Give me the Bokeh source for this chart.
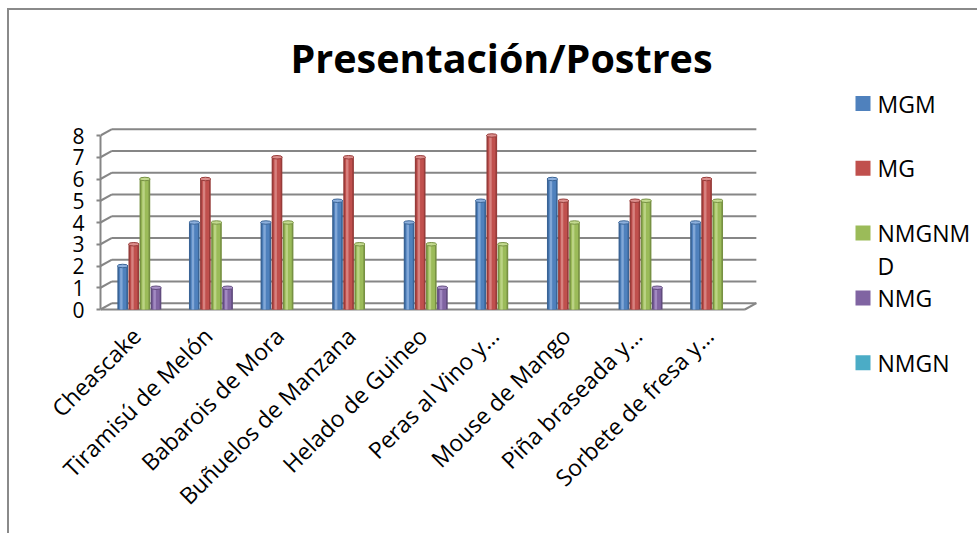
from math import pi
from bokeh.plotting import figure
from bokeh.layouts import row
from bokeh.models import Range1d, FixedTicker, ColumnDataSource, Title, CDSView, BooleanFilter
from bokeh.core.properties import value
from bokeh.embed import file_html
from bokeh.resources import INLINE

# ---------------- data ----------------
categories = ["Cheascake", "Tiramisú de Melón", "Babarois de Mora", "Buñuelos de Manzana",
              "Helado de Guineo", "Peras al Vino y…", "Mouse de Mango",
              "Piña braseada y…", "Sorbete de fresa y…"]
series_names = ["MGM", "MG", "NMGNMD", "NMG", "NMGN"]
legend_labels = ["MGM", "MG", "NMGNM\nD", "NMG", "NMGN"]   # as wrapped in the legend
mgm = [2, 4, 4, 5, 4, 5, 6, 4, 4]
mg = [3, 6, 7, 7, 7, 8, 5, 5, 6]
nmgnmd = [6, 4, 4, 3, 3, 3, 4, 5, 5]
nmg = [1, 1, 0, 0, 1, 0, 0, 1, 0]
nmgn = [0, 0, 0, 0, 0, 0, 0, 0, 0]
y_ticks = [0, 1, 2, 3, 4, 5, 6, 7, 8]
title_text = "Presentación/Postres"

series_values = [mgm, mg, nmgnmd, nmg, nmgn]

# ---------------- style / layout ----------------
FONT = "Open Sans"
base_colors = ["#4F81BD", "#C0504D", "#9BBB59", "#8064A2", "#4BACC6"]
dark_colors = ["#3A6496", "#973C3A", "#779143", "#614C7E", "#35889E"]
light_colors = ["#8DB0DD", "#DC8E8C", "#C3DA8F", "#AA93C9", "#8ACDE0"]
GRID = "#868686"
BORDER = "#8a8a8a"
DX, DY = 0.16, 0.29          # depth of the 3D back wall (x units, y units)
BAR_W = 0.155
BAR_START = 0.31
n = len(categories)

OFF_X, OFF_Y = 9, 10                 # chart border offset inside the window
H = 533 - OFF_Y
FRAME_L, FRAME_R, FRAME_T, FRAME_B = 100, 762, 87, 375   # window pixels
ZERO_PX = 309                        # window y of value 0 on the front axis
CAT_PX = 71.6                        # pixels per category
UNIT_PX = 21.75                      # pixels per value unit
Y0 = -(FRAME_B - ZERO_PX) / UNIT_PX
LABEL_GAP = 19                       # x-label distance below the floor line

p = figure(width=FRAME_R - OFF_X, height=H, output_backend="svg", toolbar_location=None,
           x_range=Range1d(0, (FRAME_R - FRAME_L) / CAT_PX),
           y_range=Range1d(Y0, Y0 + (FRAME_B - FRAME_T) / UNIT_PX),
           min_border_left=FRAME_L - OFF_X, min_border_right=0,
           min_border_top=FRAME_T - OFF_Y, min_border_bottom=533 - FRAME_B,
           outline_line_color=None,
           background_fill_color="white", border_fill_color="white")
p.xgrid.visible = False
p.ygrid.visible = False

p.title = Title(text=title_text, align="left", offset=190, standoff=5, vertical_align="bottom",
                text_font=FONT, text_font_size="39.5px", text_font_style="bold",
                text_color="black")

# y axis (front)
p.yaxis.ticker = FixedTicker(ticks=y_ticks)
p.yaxis.bounds = (y_ticks[0], y_ticks[-1])
p.yaxis.axis_line_color = GRID
p.yaxis.axis_line_width = 2
p.yaxis.major_tick_line_color = GRID
p.yaxis.major_tick_line_width = 2
p.yaxis.major_tick_out = 4
p.yaxis.major_tick_in = 0
p.yaxis.minor_tick_line_color = None
p.yaxis.major_label_standoff = 12
p.yaxis.major_label_text_font = FONT
p.yaxis.major_label_text_font_size = "21px"
p.yaxis.major_label_text_color = "black"

# x axis (category labels), lifted up to just under the floor line
centers = [i + 0.5 for i in range(n)]
p.xaxis.ticker = FixedTicker(ticks=centers)
p.xaxis.major_label_overrides = {c: lab for c, lab in zip(centers, categories)}
p.xaxis.major_label_orientation = pi / 4
p.xaxis.axis_line_color = None
p.xaxis.major_tick_line_color = None
p.xaxis.minor_tick_line_color = None
p.xaxis.major_tick_out = 0
p.xaxis.major_label_standoff = LABEL_GAP - (FRAME_B - (ZERO_PX + 3))
p.xaxis.major_label_text_font = FONT
p.xaxis.major_label_text_font_size = "23px"
p.xaxis.major_label_text_color = "black"

# back wall gridlines and depth connectors
p.segment(x0=[DX] * len(y_ticks), y0=[v + DY for v in y_ticks],
          x1=[n + DX] * len(y_ticks), y1=[v + DY for v in y_ticks],
          line_color=GRID, line_width=2)
p.segment(x0=[0] * len(y_ticks), y0=y_ticks, x1=[DX] * len(y_ticks),
          y1=[v + DY for v in y_ticks], line_color=GRID, line_width=2)
# floor front edge and right depth edge
p.segment(x0=[0, n], y0=[0, 0], x1=[n, n + DX], y1=[0, DY], line_color=GRID, line_width=2)

# bars (cylinder look)
for k, (name, vals) in enumerate(zip(series_names, series_values)):
    xs = [i + BAR_START + BAR_W * k for i in range(n)]
    src = ColumnDataSource(dict(x=xs, top=vals, cat=categories))
    view = CDSView(filter=BooleanFilter([v > 0 for v in vals]))
    p.vbar(x="x", top="top", bottom=0, width=BAR_W * 0.96, source=src, view=view,
           fill_color=dark_colors[k], line_color=None)
    p.vbar(x="x", top="top", bottom=0, width=BAR_W * 0.66, source=src, view=view,
           fill_color=base_colors[k], line_color=None)
    src2 = ColumnDataSource(dict(x=[x - BAR_W * 0.12 for x in xs], top=vals))
    p.vbar(x="x", top="top", bottom=0, width=BAR_W * 0.22, source=src2, view=view,
           fill_color=light_colors[k], line_color=None, fill_alpha=0.8)
    p.ellipse(x="x", y="top", width=BAR_W * 0.96, height=0.16, source=src, view=view,
              fill_color=light_colors[k], line_color=dark_colors[k], line_width=1)

# ---------------- legend panel (window-pixel coordinates) ----------------
leg = figure(width=977 - FRAME_R, height=H, output_backend="svg", toolbar_location=None,
             x_range=Range1d(FRAME_R, 977), y_range=Range1d(FRAME_B, FRAME_T),
             min_border_left=0, min_border_right=0,
             min_border_top=FRAME_T - OFF_Y, min_border_bottom=533 - FRAME_B,
             x_axis_type=None, y_axis_type=None, outline_line_color=None,
             background_fill_color="white", border_fill_color="white")
leg.xgrid.visible = False
leg.ygrid.visible = False
ROW0, ROW = 103, 32.4        # first legend row centre and row pitch
SQ_X, TXT_X = 862.5, 877
sq_y, txt_y, txt = [], [], []
for k, lab in enumerate(legend_labels):
    y0 = ROW0 + 2 * k * ROW
    sq_y.append(y0)
    for j, line in enumerate(lab.split("\n")):
        txt_y.append(y0 + j * ROW)
        txt.append(line)
leg.rect(x=[SQ_X] * len(sq_y), y=sq_y, width=15, height=15,
         fill_color=base_colors, line_color=None)
leg.text(x=[TXT_X] * len(txt), y=txt_y, text=txt, text_font=value(FONT),
         text_font_size=value("23px"), text_baseline="middle", text_align="left",
         text_color="black")

layout = row(p, leg, margin=(OFF_Y - 2, 0, 0, OFF_X - 2),
             styles={"border-left": "2px solid " + BORDER, "border-top": "2px solid " + BORDER})

open("out.html", "w").write(file_html(layout, INLINE))
